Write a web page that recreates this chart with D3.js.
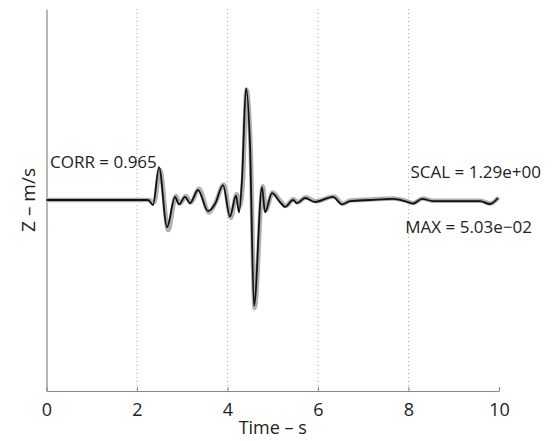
<!DOCTYPE html>
<html>
<head>
<meta charset="utf-8">
<script src="https://cdn.jsdelivr.net/npm/d3@7"></script>
<style>
  html, body { margin: 0; padding: 0; background: #fff; }
  svg { display: block; }
  text { font-family: "Open Sans", "Noto Sans", sans-serif; fill: #222; }
</style>
</head>
<body>
<svg id="chart" width="554" height="441"></svg>
<script>
// Vertical-component velocity seismograms: recorded (black) and synthetic (gray)
const obsTime = [0, 2.243, 2.354, 2.486, 2.663, 2.840, 2.928, 3.061, 3.171, 3.348, 3.569, 3.724, 3.901, 4.055, 4.188, 4.254, 4.320, 4.409, 4.497, 4.586, 4.762, 4.829, 4.983, 5.160, 5.271, 5.448, 5.536, 5.713, 5.934, 6.332, 6.530, 6.707, 7.149, 7.657, 7.923, 8.099, 8.298, 8.541, 9.580, 9.801, 9.978];
const obsValue = [0, 0, -0.0023, 0.0148, -0.0122, 0.0014, -0.0020, 0.0014, -0.0014, 0.0045, -0.0050, -0.0018, 0.0067, -0.0074, 0.0020, -0.0056, 0.0090, 0.0503, 0.0250, -0.0475, 0.0058, -0.0056, 0.0031, -0.0009, -0.0031, 0.0000, -0.0014, 0.0009, -0.0009, 0.0014, -0.0020, -0.0005, 0.0000, 0.0005, -0.0005, -0.0016, 0.0005, -0.0005, -0.0005, -0.0018, 0.0009];

const synTime = [0, 2.250, 2.380, 2.510, 2.690, 2.860, 2.950, 3.080, 3.190, 3.370, 3.590, 3.740, 3.920, 4.075, 4.200, 4.270, 4.340, 4.420, 4.510, 4.600, 4.780, 4.845, 5.000, 5.170, 5.290, 5.460, 5.550, 5.730, 5.950, 6.350, 6.550, 6.720, 7.160, 7.670, 7.930, 8.110, 8.310, 8.550, 9.590, 9.810, 9.990];
const synValue = [0, 0, -0.0010, 0.0135, -0.0135, 0.0018, -0.0016, 0.0018, -0.0012, 0.0050, -0.0056, -0.0010, 0.0070, -0.0080, 0.0026, -0.0030, 0.0080, 0.0495, 0.0240, -0.0485, 0.0062, -0.0046, 0.0034, -0.0005, -0.0027, 0.0004, -0.0011, 0.0012, -0.0006, 0.0016, -0.0017, -0.0002, 0.0002, 0.0007, -0.0003, -0.0014, 0.0007, -0.0003, -0.0003, -0.0016, 0.0011];

const xTicks = [0, 2, 4, 6, 8, 10];
const gridTicks = [2, 4, 6, 8];
const annotations = ["CORR = 0.965", "SCAL = 1.29e+00", "MAX = 5.03e\u221202"];
const xLabel = "Time \u2013 s";
const yLabel = "Z \u2013 m/s";

const svg = d3.select("#chart");
const margin = { left: 46.5, right: 55, top: 9, bottom: 50 };
const W = 554, H = 441;

const x = d3.scaleLinear().domain([0, 10]).range([margin.left, W - margin.right]);
const y = d3.scaleLinear().domain([-0.0858, 0.0858]).range([H - margin.bottom, margin.top]);

// dotted vertical grid
svg.append("g").selectAll("line").data(gridTicks).join("line")
  .attr("x1", d => x(d)).attr("x2", d => x(d))
  .attr("y1", y.range()[1]).attr("y2", y.range()[0])
  .attr("stroke", "#aaa").attr("stroke-width", 1)
  .attr("stroke-dasharray", "1,3");

// bottom axis with inward ticks
const xAxis = svg.append("g")
  .attr("transform", `translate(0,${y.range()[0]})`)
  .call(d3.axisBottom(x).tickValues(xTicks).tickSizeInner(-4).tickSizeOuter(0).tickPadding(12));
xAxis.select(".domain").attr("stroke", "#888").attr("stroke-width", 1.2);
xAxis.selectAll(".tick line").attr("stroke", "#888");
xAxis.selectAll(".tick text")
  .style("font-family", "'Open Sans', 'Noto Sans', sans-serif")
  .style("font-size", "18px").attr("fill", "#222");

// left axis: plain line only
const yAxis = svg.append("g")
  .attr("transform", `translate(${x.range()[0]},0)`)
  .call(d3.axisLeft(y).tickValues([]).tickSizeOuter(0));
yAxis.select(".domain").attr("stroke", "#888").attr("stroke-width", 1.2);

const line = d3.line().curve(d3.curveMonotoneX)
  .x(d => x(d[0])).y(d => y(d[1]));

const syn = d3.zip(synTime, synValue);
const obs = d3.zip(obsTime, obsValue);

svg.append("path").datum(syn)
  .attr("d", line).attr("fill", "none")
  .attr("stroke", "#b0b0b0").attr("stroke-width", 4.5)
  .attr("stroke-linejoin", "round");

svg.append("path").datum(obs)
  .attr("d", line).attr("fill", "none")
  .attr("stroke", "#111").attr("stroke-width", 1.8)
  .attr("stroke-linejoin", "round");

// annotations
svg.append("text").attr("x", 50).attr("y", 168)
  .style("font-size", "17px").text(annotations[0]);
svg.append("text").attr("x", 541).attr("y", 178).attr("text-anchor", "end")
  .style("font-size", "17px").text(annotations[1]);
svg.append("text").attr("x", 532).attr("y", 233).attr("text-anchor", "end")
  .style("font-size", "17px").text(annotations[2]);

// axis titles
svg.append("text")
  .attr("x", (x.range()[0] + x.range()[1]) / 2).attr("y", 434)
  .attr("text-anchor", "middle").style("font-size", "18px").text(xLabel);
svg.append("text")
  .attr("transform", `translate(35,${y(0)}) rotate(-90)`)
  .attr("text-anchor", "middle").style("font-size", "19px").text(yLabel);
</script>
</body>
</html>
